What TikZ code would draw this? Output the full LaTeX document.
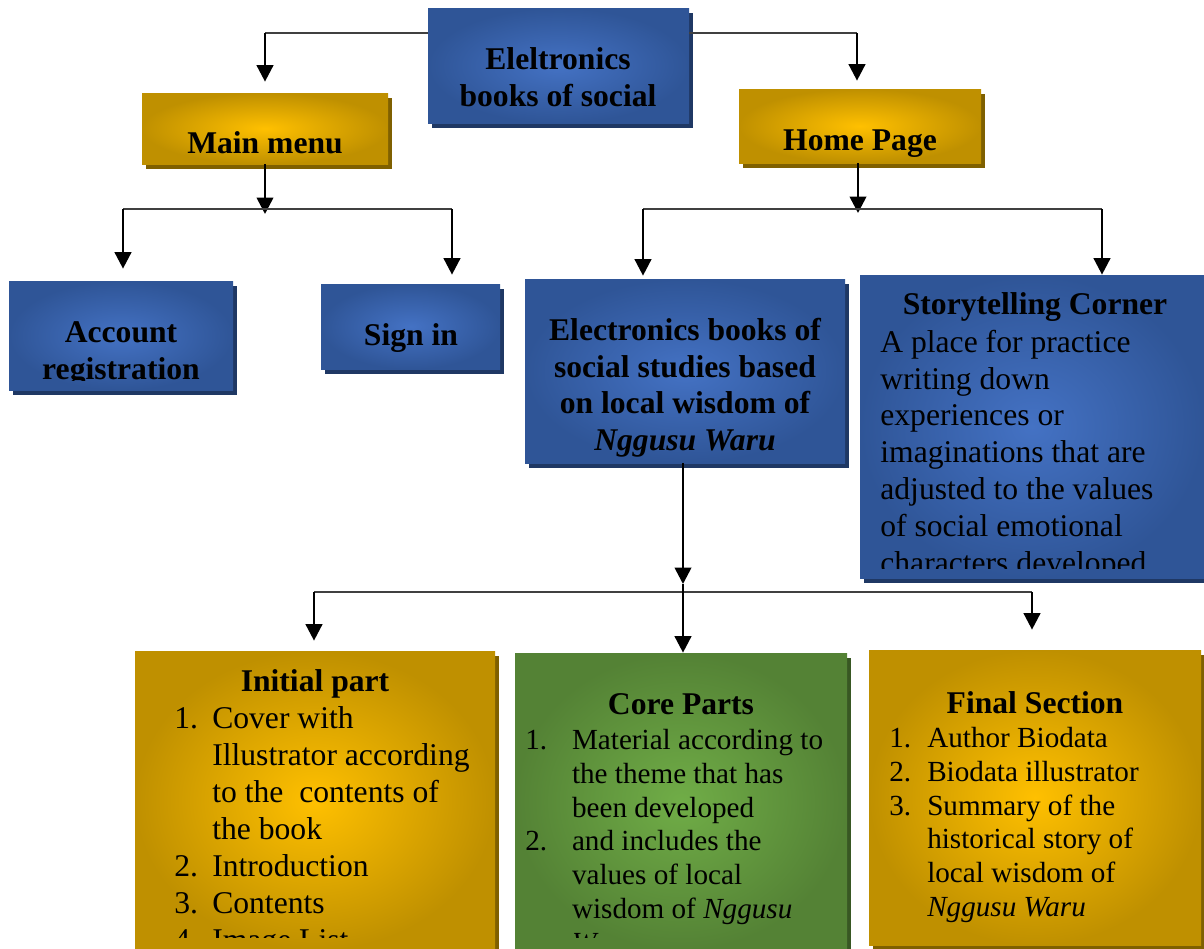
\documentclass[tikz,border=0pt]{standalone}
\usepackage{fontspec}
\setmainfont{Liberation Serif}
\usetikzlibrary{arrows.meta,shadows}

\definecolor{blueedge}{HTML}{2F5597}
\definecolor{bluemid}{HTML}{4472C4}
\definecolor{blueshade}{HTML}{1F3864}
\definecolor{goldedge}{HTML}{BF9000}
\definecolor{goldmid}{HTML}{FFC000}
\definecolor{goldshade}{HTML}{7F6000}
\definecolor{greenedge}{HTML}{548235}
\definecolor{greenmid}{HTML}{70AD47}
\definecolor{greenshade}{HTML}{385723}

\newcommand\listno[2][1.2em]{\makebox[#1][l]{#2}}

\tikzset{
  dims/.style 2 args={minimum width={#1*0.02cm}, minimum height={#2*0.02cm}},
  panel/.style={rectangle, inner sep=0pt,
    drop shadow={opacity=1, fill=#1, shadow xshift=0.08cm, shadow yshift=-0.1cm}},
  bluebox/.style={panel=blueshade, inner color=bluemid, outer color=blueedge},
  goldbox/.style={panel=goldshade, inner color=goldmid, outer color=goldedge},
  greenbox/.style={panel=greenshade, inner color=greenmid, outer color=greenedge},
  conn/.style={line width=1.5pt, -{Triangle[length=0.33cm, width=0.33cm]}},
  bar/.style={line width=1.1pt, black!75},
  gap/.style={shorten >={#1*0.02cm}},
  head/.style={font=\fontsize{18}{21}\selectfont\bfseries, inner sep=0pt},
  body/.style={font=\fontsize{18}{21}\selectfont, align=left, anchor=north west, inner sep=0pt},
  small/.style={font=\fontsize{16.6}{19.2}\selectfont, align=left, anchor=north west, inner sep=0pt},
}

\begin{document}
\begin{tikzpicture}[x=0.02cm, y=-0.02cm]
  \useasboundingbox (0,0) rectangle (1204,948);

  % boxes
  \node[bluebox, dims={261}{115}] (ebook) at (558.5,65.5) {};
  \node[goldbox, dims={246}{71}] (mainmenu) at (265,128.5) {};
  \node[goldbox, dims={242}{74}] (home) at (860,126) {};
  \node[bluebox, dims={224}{109}] (account) at (121,335.5) {};
  \node[bluebox, dims={179}{85}] (signin) at (410.5,326.5) {};
  \node[bluebox, dims={320}{184}] (social) at (685,371) {};
  \node[bluebox, dims={344}{303}] (story) at (1032,426.5) {};
  \node[goldbox, dims={360}{299}] (initial) at (315,800.5) {};
  \node[greenbox, dims={332}{297}] (core) at (681,801.5) {};
  \node[goldbox, dims={332}{295}] (final) at (1035,797.5) {};

  % texts
  \node[head, align=center, anchor=north] (ebook-t) at (558,47.5) {Eleltronics\\books of social};
  \node[head, anchor=base] (mainmenu-t) at (265,153) {Main menu};
  \node[head, anchor=base] (home-t) at (860,150) {Home Page};
  \node[head, anchor=base] (signin-t) at (411,345) {Sign in};
  \node[head, align=center, anchor=north] (social-t) at (685,317.5)
    {Electronics books of\\social studies based\\on local wisdom of\\\textit{Nggusu Waru}};
  \begin{scope}
    \clip (9,281) rectangle (233,380);
    \node[head, align=center, anchor=north] (account-t) at (121,321) {Account\\registration};
  \end{scope}
  \begin{scope}
    \clip (860,275) rectangle (1204,568);
    \node[head, anchor=base] (story-t) at (1035,314) {Storytelling Corner};
    \node[body] (story-b) at (880,329.5) {A place for practice\\writing down\\experiences or\\imaginations that are\\adjusted to the values\\of social emotional\\characters developed};
  \end{scope}
  \begin{scope}
    \clip (135,651) rectangle (497,937);
    \node[head, anchor=base] (initial-t) at (315,691) {Initial part};
    \node[body] (initial-b) at (174,706.5) {\listno{1.}Cover with\\\listno{}Illustrator according\\\listno{}to the\ \ contents of\\\listno{}the book\\\listno{2.}Introduction\\\listno{3.}Contents\\\listno{4.}Image List};
  \end{scope}
  \begin{scope}
    \clip (515,653) rectangle (847,937);
    \node[head, anchor=base] (core-t) at (681,714) {Core Parts};
    \node[small] (core-b) at (525,729) {\listno[1.6em]{1.}Material according to\\\listno[1.6em]{}the theme that has\\\listno[1.6em]{}been developed\\\listno[1.6em]{2.}and includes the\\\listno[1.6em]{}values of local\\\listno[1.6em]{}wisdom of \textit{Nggusu}\\\listno[1.6em]{}\textit{Waru}};
  \end{scope}
  \node[head, anchor=base] (final-t) at (1035,713) {Final Section};
  \node[small] (final-b) at (889,727) {\listno[1.3em]{1.}Author Biodata\\\listno[1.3em]{2.}Biodata illustrator\\\listno[1.3em]{3.}Summary of the\\\listno[1.3em]{}historical story of\\\listno[1.3em]{}local wisdom of\\\listno[1.3em]{}\textit{Nggusu Waru}};

  % from the title box
  \coordinate (tl) at (265,33);
  \coordinate (tr) at (857,33);
  \draw[bar] (ebook.west |- tl) -- (tl);
  \draw[bar] (ebook.east |- tr) -- (tr);
  \draw[conn, gap=11] (tl) -- (tl |- mainmenu.north);
  \draw[conn, gap=8] (tr) -- (tr |- home.north);

  % under main menu
  \coordinate (mtip) at (265,214);
  \coordinate (ml) at (123,209);
  \coordinate (mr) at (452,209);
  \draw[conn] (mainmenu.south) -- (mtip);
  \draw[bar] (ml) -- (mr);
  \draw[conn, gap=12] (ml) -- (ml |- account.north);
  \draw[conn, gap=9] (mr) -- (mr |- signin.north);

  % under home page
  \coordinate (htip) at (858,213);
  \coordinate (hl) at (643,209);
  \coordinate (hr) at (1102,209);
  \draw[conn] (home.south -| htip) -- (htip);
  \draw[bar] (hl) -- (hr);
  \draw[conn, gap=3] (hl) -- (hl |- social.north);
  \draw[conn] (hr) -- (hr |- story.north);

  % under the social studies box
  \coordinate (stip) at (683,584);
  \coordinate (sl) at (314,592);
  \coordinate (sr) at (1032,592);
  \draw[conn] (social.south -| stip) -- (stip);
  \draw[bar] (sl) -- (sr);
  \draw[conn] (stip) -- (stip |- core.north);
  \draw[conn, gap=10] (sl) -- (sl |- initial.north);
  \draw[conn, gap=20] (sr) -- (sr |- final.north);
\end{tikzpicture}
\end{document}
